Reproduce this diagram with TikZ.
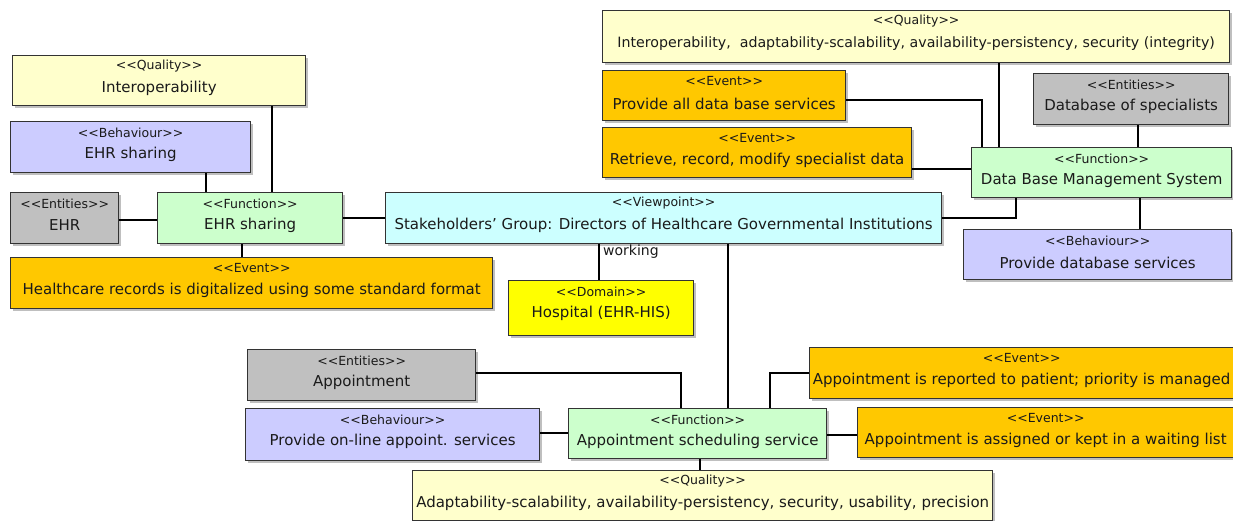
\documentclass[tikz,border=0pt]{standalone}
\usepackage{fontspec}
\setmainfont{DejaVu Sans}
\usetikzlibrary{shadows}
\definecolor{cQual}{HTML}{FFFFCC}
\definecolor{cBeh}{HTML}{CCCCFF}
\definecolor{cEnt}{HTML}{C0C0C0}
\definecolor{cFun}{HTML}{CCFFCC}
\definecolor{cEvt}{HTML}{FFC800}
\definecolor{cView}{HTML}{CCFFFF}
\definecolor{cDom}{HTML}{FFFF00}
\definecolor{cLine}{HTML}{333333}
\definecolor{cText}{HTML}{1A1A1A}
\tikzset{
  box/.style={draw=cLine, line width=1.3pt, inner sep=0pt,
    drop shadow={shadow xshift=2pt, shadow yshift=-2pt, fill=black, opacity=0.25}},
  stereo/.style={font=\fontsize{12.5}{14}\selectfont, text=cText, inner sep=0pt},
  nametext/.style={font=\fontsize{15}{17}\selectfont, text=cText, inner sep=0pt},
  conn/.style={draw=black, line width=1.1pt},
  lbl/.style={font=\fontsize{14}{16}\selectfont, text=cText, inner sep=0pt, anchor=west}
}
\newcommand\umlbox[8]{%
  \node[box, fill=#6, minimum width=#4pt, minimum height=#5pt, anchor=north west] (#1) at (#2,#3) {};
  \node[stereo] (#1-s) at ([yshift=-11.5pt]#1.north) {<\kern0pt<#7>\kern0pt>};
  \node[nametext] (#1-t) at ([yshift=-33.5pt]#1.north) {#8};
}
\begin{document}
\begin{tikzpicture}[x=1pt,y=-1pt]
\useasboundingbox (0,0) rectangle (1233,521);
% left cluster
\umlbox{qL}{12}{55}{293}{50}{cQual}{Quality}{Interoperability}
\umlbox{bE}{10}{121}{240}{51}{cBeh}{Behaviour}{EHR sharing}
\umlbox{eE}{10}{192}{108}{51}{cEnt}{Entities}{EHR}
\umlbox{fE}{157}{192}{185}{51}{cFun}{Function}{EHR sharing}
\umlbox{evH}{10}{257}{482}{51}{cEvt}{Event}{Healthcare records is digitalized using some standard format}
% center
\umlbox{vp}{385}{192}{556}{51}{cView}{Viewpoint}{Stakeholders’ Group: Directors of Healthcare Governmental Institutions}
\umlbox{dom}{508}{280}{185}{55}{cDom}{Domain}{Hospital (EHR-HIS)}
% right cluster
\umlbox{qR}{602}{10}{627}{52}{cQual}{Quality}{\fontsize{14.2}{16}\selectfont Interoperability,\ \ adaptability-scalability, availability-persistency, security (integrity)}
\umlbox{evP}{602}{70}{243}{50}{cEvt}{Event}{Provide all data base services}
\umlbox{evR}{602}{127}{309}{50}{cEvt}{Event}{Retrieve, record, modify specialist data}
\umlbox{eDB}{1033}{73}{195}{51}{cEnt}{Entities}{Database of specialists}
\umlbox{dbms}{971}{147}{260}{50}{cFun}{Function}{Data Base Management System}
\umlbox{bDB}{963}{229}{268}{50}{cBeh}{Behaviour}{Provide database services}
% bottom cluster
\umlbox{eA}{247}{349}{228}{51}{cEnt}{Entities}{Appointment}
\umlbox{bOn}{245}{408}{294}{52}{cBeh}{Behaviour}{Provide on-line appoint. services}
\umlbox{fA}{568}{408}{258}{50}{cFun}{Function}{Appointment scheduling service}
\umlbox{evRep}{809}{347}{424}{51}{cEvt}{Event}{Appointment is reported to patient; priority is managed}
\umlbox{evAs}{857}{407}{376}{50}{cEvt}{Event}{Appointment is assigned or kept in a waiting list}
\umlbox{qB}{412}{470}{580}{50}{cQual}{Quality}{Adaptability-scalability, availability-persistency, security, usability, precision}
% connectors
\draw[conn] (qL.south -| 272,0) -- (fE.north -| 272,0);
\draw[conn] (bE.south -| 206,0) -- (fE.north -| 206,0);
\draw[conn] (eE.east |- 0,220) -- (fE.west |- 0,220);
\draw[conn] (fE.east |- 0,218) -- (vp.west |- 0,218);
\draw[conn] (fE.south -| 242,0) -- (evH.north -| 242,0);
\draw[conn] (vp.south -| 599,0) -- (dom.north -| 599,0);
\node[lbl] (work) at (603,252) {working};
\draw[conn] (vp.south -| 728,0) -- (fA.north -| 728,0);
\draw[conn] (vp.east |- 0,218) -| (dbms.south -| 1016,0);
\draw[conn] (evP.east |- 0,100) -| (dbms.north -| 982,0);
\draw[conn] (qR.south -| 999,0) -- (dbms.north -| 999,0);
\draw[conn] (evR.east |- 0,169) -- (dbms.west |- 0,169);
\draw[conn] (eDB.south -| 1138,0) -- (dbms.north -| 1138,0);
\draw[conn] (dbms.south -| 1140,0) -- (bDB.north -| 1140,0);
\draw[conn] (eA.east |- 0,373) -| (fA.north -| 681,0);
\draw[conn] (evRep.west |- 0,373) -| (fA.north -| 770,0);
\draw[conn] (bOn.east |- 0,433) -- (fA.west |- 0,433);
\draw[conn] (fA.east |- 0,435) -- (evAs.west |- 0,435);
\draw[conn] (fA.south -| 700,0) -- (qB.north -| 700,0);
\end{tikzpicture}
\end{document}
